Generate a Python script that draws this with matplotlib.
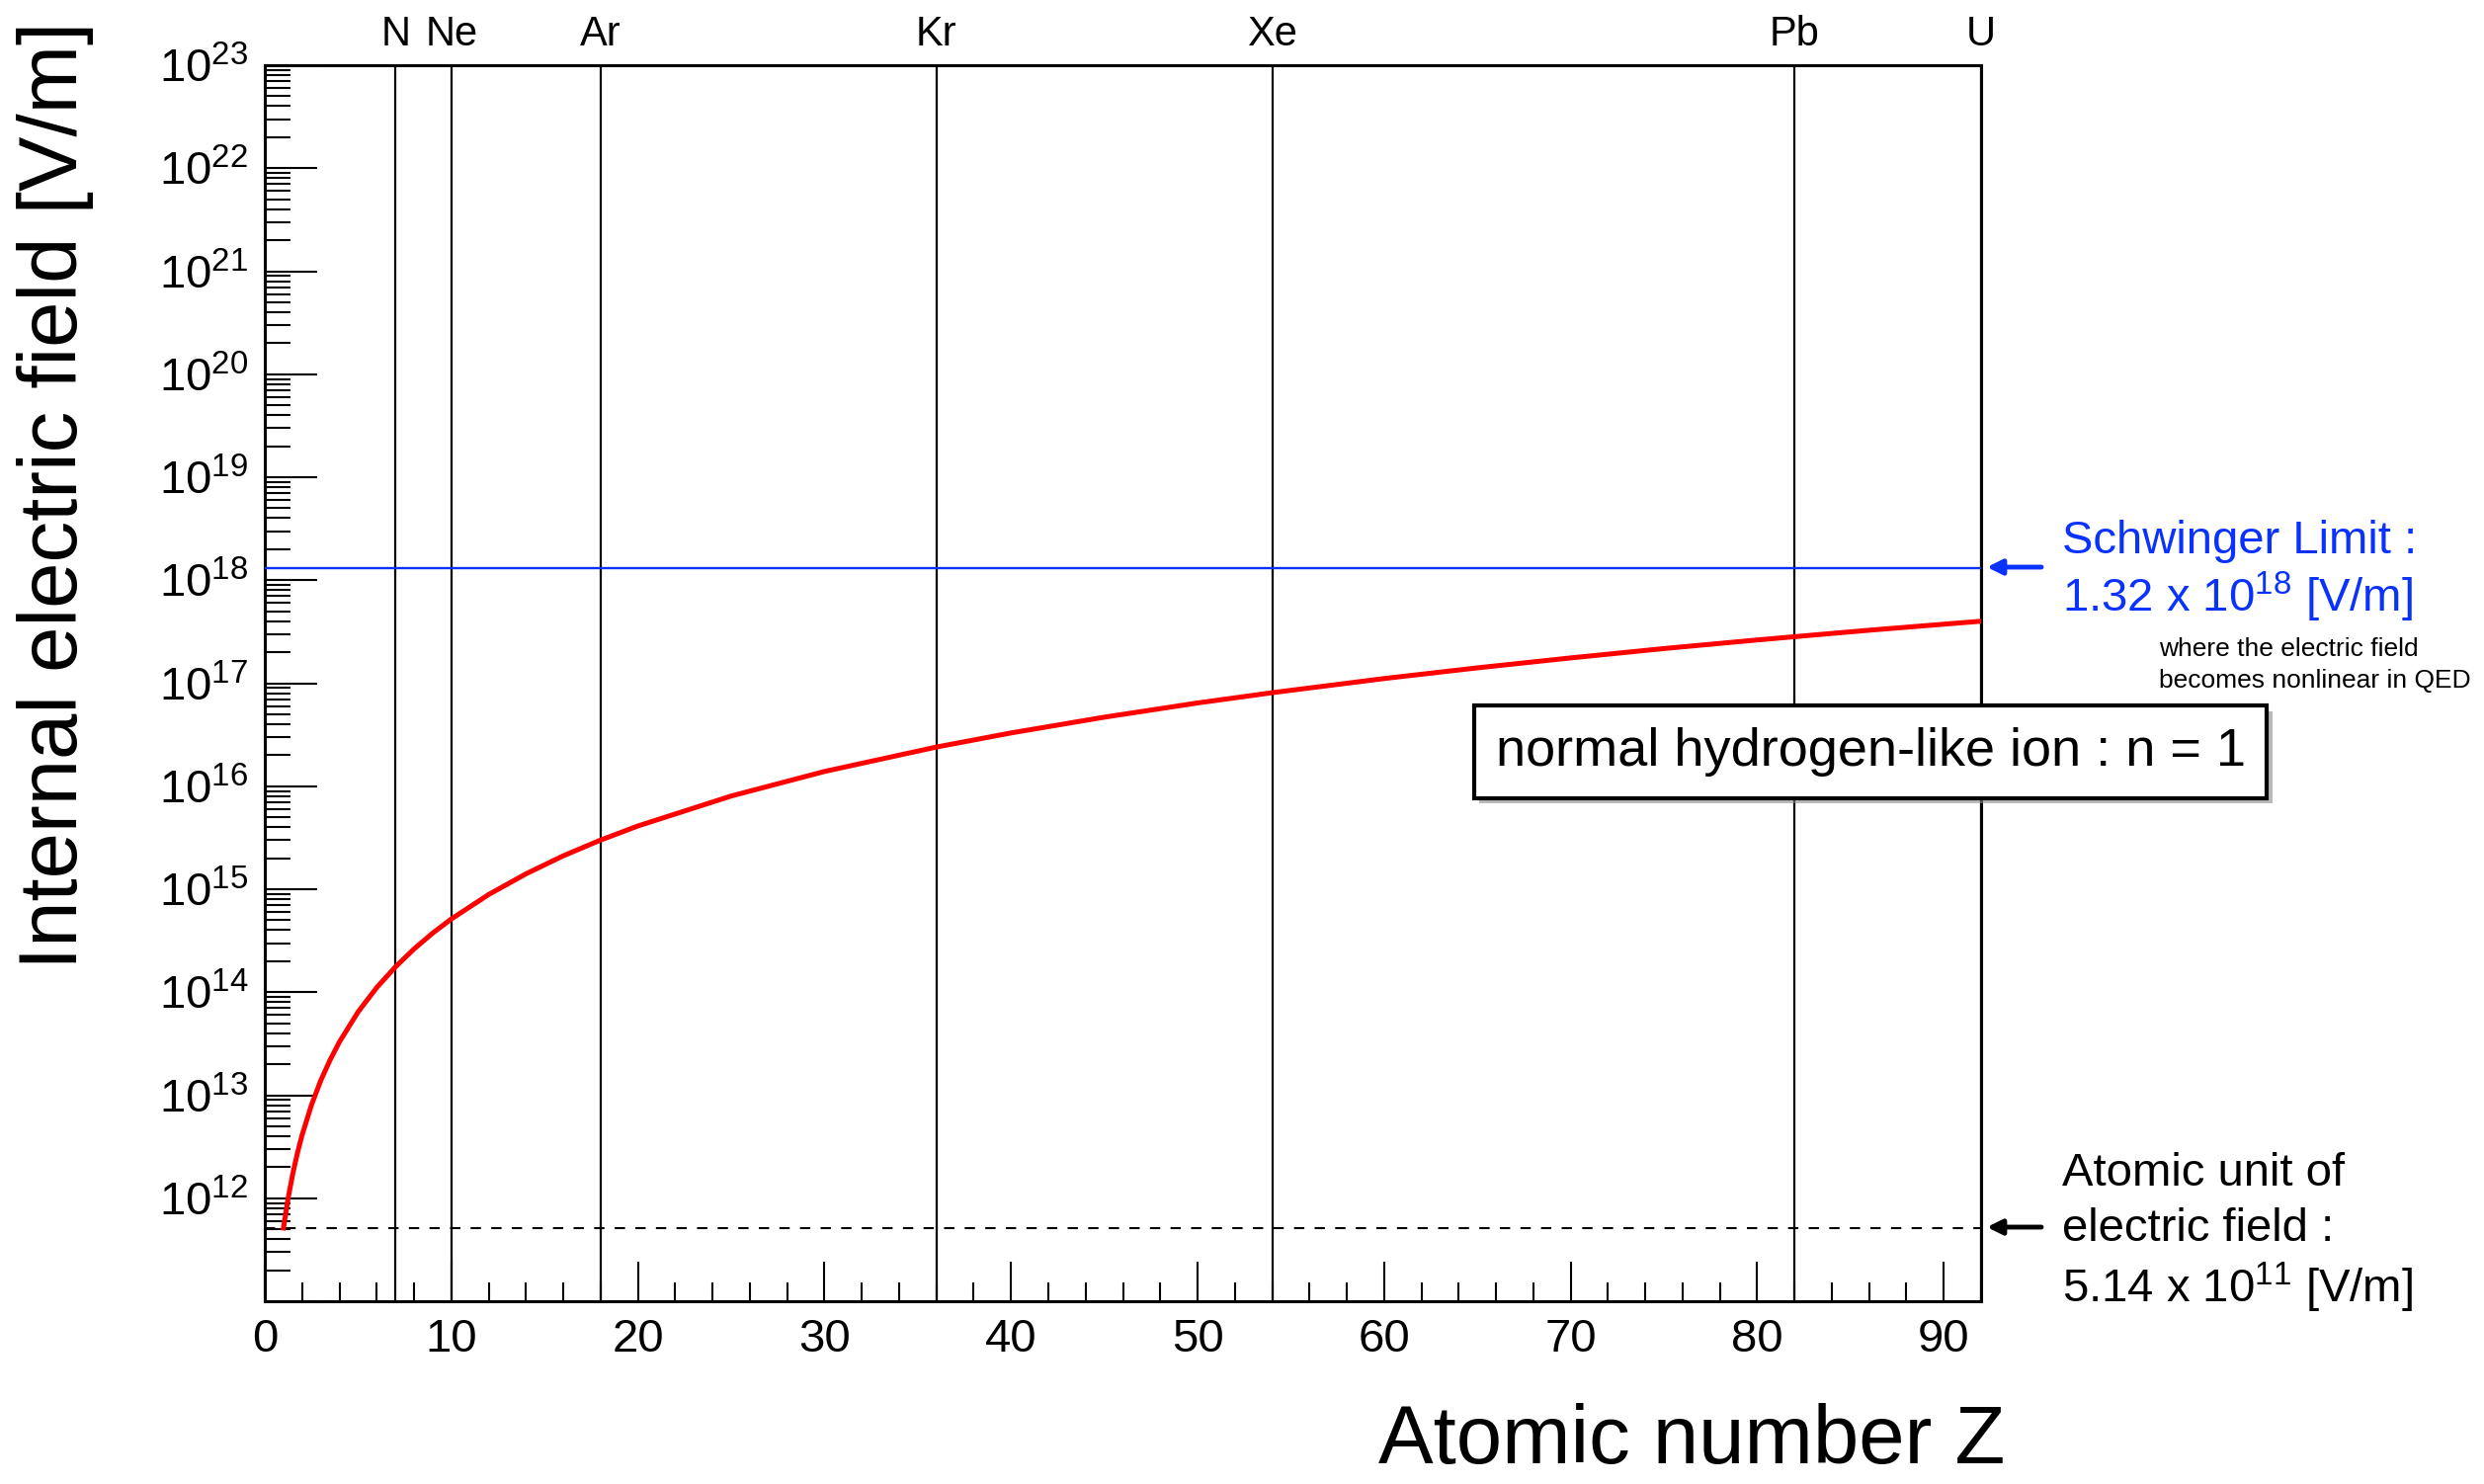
import numpy as np
import matplotlib
matplotlib.use('Agg')
import matplotlib.pyplot as plt
import matplotlib.ticker as mticker
import matplotlib.patheffects as pe

plt.rcParams['font.family'] = ['Liberation Sans', 'DejaVu Sans']
plt.rcParams['mathtext.fontset'] = 'custom'
plt.rcParams['mathtext.rm'] = 'Liberation Sans'
plt.rcParams['mathtext.it'] = 'Liberation Sans:italic'
plt.rcParams['mathtext.bf'] = 'Liberation Sans:bold'

# field of a hydrogen-like ion (n = 1)
z_curve = [1, 1.25, 1.5, 1.75, 2, 2.5, 3, 3.5, 4, 5, 6, 7, 8, 9, 10, 12, 14,
           16, 18, 20, 25, 30, 36, 40, 45, 50, 54, 60, 65, 70, 75, 80, 82,
           86, 92]
e_curve = [5.14e11, 1.00e12, 1.73e12, 2.75e12, 4.11e12, 8.03e12, 1.39e13,
           2.20e13, 3.29e13, 6.43e13, 1.11e14, 1.76e14, 2.63e14, 3.75e14,
           5.14e14, 8.88e14, 1.41e15, 2.11e15, 3.00e15, 4.11e15, 8.03e15,
           1.39e16, 2.40e16, 3.29e16, 4.68e16, 6.43e16, 8.09e16, 1.11e17,
           1.41e17, 1.76e17, 2.17e17, 2.63e17, 2.83e17, 3.27e17, 4.00e17]

elements = ['N', 'Ne', 'Ar', 'Kr', 'Xe', 'Pb', 'U']
z_elem = [7, 10, 18, 36, 54, 82, 92]

schwinger = 1.32e18
atomic_unit = 5.14e11

W, H = 2514, 1502
BLUE = '#0a32ff'


def fp(x, y):
    # pixel position (from top left) -> figure fraction
    return x / W, 1 - y / H


def ylab(v, pos):
    if v < 1e12:
        return ''
    return r'$\mathdefault{10^{%d}}$' % round(np.log10(v))


fig = plt.figure(figsize=(W / 100, H / 100), dpi=100)
ax = fig.add_axes([268 / W, 1 - 1317 / H, (2005 - 268) / W, (1317 - 66) / H])

ax.plot(z_curve, e_curve, color='red', lw=3.6, zorder=4)
ax.axhline(schwinger, color=BLUE, lw=1.7, zorder=3)
ax.axhline(atomic_unit, color='black', lw=1.5, ls=(0, (5, 5)), zorder=3)
for z in z_elem:
    ax.axvline(z, color='black', lw=1.6, zorder=2)

ax.set_yscale('log')
ax.set_xlim(0, 92)
ax.set_ylim(1e11, 1e23)

ax.yaxis.set_major_locator(mticker.LogLocator(base=10, numticks=20))
ax.yaxis.set_major_formatter(mticker.FuncFormatter(ylab))
ax.yaxis.set_minor_locator(mticker.LogLocator(base=10, subs=np.arange(2, 10), numticks=20))
ax.yaxis.set_minor_formatter(mticker.NullFormatter())
ax.xaxis.set_major_locator(mticker.MultipleLocator(10))
ax.xaxis.set_minor_locator(mticker.MultipleLocator(2))

ax.tick_params(axis='y', which='major', direction='in', length=38, width=1.5,
               labelsize=34, pad=12)
ax.tick_params(axis='y', which='minor', direction='in', length=19, width=1.5)
ax.tick_params(axis='x', which='major', direction='in', length=29, width=1.5,
               labelsize=34, pad=12)
ax.tick_params(axis='x', which='minor', direction='in', length=14, width=1.5)
for s in ax.spines.values():
    s.set_linewidth(2.2)

# element names above the frame
for name, z in zip(elements, z_elem):
    ax.annotate(name, xy=(z, 1.0), xycoords=('data', 'axes fraction'),
                xytext=(0, 8), textcoords='offset points',
                ha='center', va='bottom', fontsize=30)

# axis titles
fig.text(*fp(56, 22), 'Internal electric field [V/m]', rotation=90,
         ha='center', va='top', fontsize=60)
fig.text(*fp(1712, 1481), 'Atomic number Z', ha='center', va='baseline',
         fontsize=60)

# Schwinger limit annotation
ax.annotate('', xy=fp(2011, 574), xycoords='figure fraction',
            xytext=fp(2066, 574), textcoords='figure fraction',
            arrowprops=dict(arrowstyle='-|>,head_length=0.9,head_width=0.45',
                            color=BLUE, lw=3.5, shrinkA=0, shrinkB=0))
fig.text(*fp(2087, 548), 'Schwinger Limit :', color=BLUE, fontsize=34,
         ha='left', va='center')
fig.text(*fp(2087, 604), r'1.32 x 10$^{18}$ [V/m]', color=BLUE, fontsize=34,
         ha='left', va='center')
fig.text(*fp(2185, 657), 'where the electric field', fontsize=19,
         ha='left', va='center')
fig.text(*fp(2185, 689), 'becomes nonlinear in QED', fontsize=19,
         ha='left', va='center')

# atomic unit annotation
ax.annotate('', xy=fp(2011, 1242), xycoords='figure fraction',
            xytext=fp(2066, 1242), textcoords='figure fraction',
            arrowprops=dict(arrowstyle='-|>,head_length=0.9,head_width=0.45',
                            color='black', lw=3.5, shrinkA=0, shrinkB=0))
fig.text(*fp(2087, 1188), 'Atomic unit of', fontsize=34, ha='left', va='center')
fig.text(*fp(2087, 1244), 'electric field :', fontsize=34, ha='left', va='center')
fig.text(*fp(2087, 1303), r'5.14 x 10$^{11}$ [V/m]', fontsize=34,
         ha='left', va='center')

# legend-like box
box = fig.text(*fp(1893, 761), 'normal hydrogen-like ion : n = 1', fontsize=39,
               ha='center', va='center', zorder=10,
               bbox=dict(boxstyle='square,pad=0.4', facecolor='white',
                         edgecolor='black', linewidth=3.0))
box.get_bbox_patch().set_path_effects([
    pe.SimplePatchShadow(offset=(4, -4), shadow_rgbFace='0.55', alpha=0.6),
    pe.Normal()])

fig.savefig('out.png', dpi=100)
plt.close(fig)
